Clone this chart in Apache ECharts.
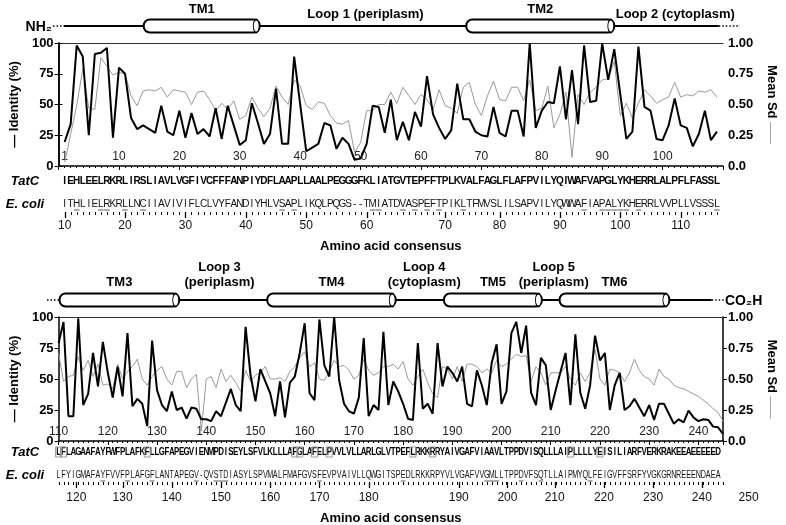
<!DOCTYPE html>
<html><head><meta charset="utf-8">
<script src="https://cdn.jsdelivr.net/npm/echarts@6/dist/echarts.min.js"></script>
<style>html,body{margin:0;padding:0;background:#fff}#c{width:786px;height:525px}</style>
</head><body><div id="c"></div>
<script>
// ---------------- DATA ----------------
const topStart = 1;
const bottomStart = 110;
const topIdentity = [19.5,34,98,89,25,91,92,96,23,80,75,39,30,33,30,27,49,28,25,45,23,43,26,30,24,47,22,49,33,17,21,51,35,18,26,63,18,18,89,50,12,15,18,35,33,14,23,18,5,6,18,49,48,27,54,21,36,21,44,32,73,42,31,22,29,67,38,38,28,25,24,48,27,24,45,45,24,100,31,45,52,51,81,38,78,34,98,52,53,99.5,70,95,58,22,28,97,48,45,22,21,33,55,33,31,16,26,45,21,28];
const topMeanSd = [0.03,0.26,0.49,0.79,0.47,0.46,0.88,0.81,0.74,0.76,0.75,0.57,0.49,0.61,0.62,0.61,0.64,0.56,0.62,0.61,0.60,0.50,0.60,0.61,0.54,0.45,0.51,0.46,0.53,0.38,0.41,0.56,0.47,0.40,0.47,0.65,0.56,0.50,0.70,0.65,0.49,0.46,0.52,0.51,0.41,0.35,0.34,0.37,0.11,0.19,0.45,0.45,0.50,0.50,0.60,0.51,0.64,0.57,0.50,0.58,0.54,0.46,0.62,0.49,0.47,0.43,0.64,0.68,0.50,0.41,0.57,0.69,0.54,0.53,0.64,0.64,0.53,0.70,0.45,0.47,0.65,0.31,0.42,0.60,0.07,0.58,0.50,0.60,0.64,0.70,0.71,0.85,0.41,0.51,0.39,0.51,0.62,0.57,0.51,0.54,0.56,0.68,0.56,0.58,0.57,0.61,0.60,0.62,0.56];
const bottomIdentity = [79,96,20,20,99,29,38,71,44,80,55,35,60,36,87,28,34,30,12,81,41,29,24,40,25,27,18,27,26,17.5,17.5,16,24,20,31,42,29,24,92,53,32,58,48,38.5,20,48,19,47,52,71,95,38.5,33,98,61,52,100,49,30,24,22,35,83,20,29,25,88,29,48,40,30,18,17,79,26,30,22,79,44,60,55,48,60,30,28,57,45,29,63,78,30,40,87,96,71,93,39,29,67,61,25,41,56,71,29,86,39,26,45,85,65,71,25,45,55,25,28,34,27,20,29,17,30,30,22,14,17.5,15,24.5,19,16,17.5,17,11.6,11,5.7];
const bottomMeanSd = [0.71,0.48,0.52,0.53,0.68,0.57,0.65,0.52,0.62,0.45,0.46,0.42,0.62,0.50,0.56,0.60,0.66,0.50,0.45,0.52,0.57,0.60,0.50,0.45,0.56,0.56,0.43,0.50,0.54,0.08,0.50,0.52,0.43,0.58,0.48,0.53,0.47,0.40,0.57,0.48,0.53,0.55,0.60,0.50,0.50,0.51,0.48,0.56,0.60,0.67,0.72,0.60,0.63,0.50,0.49,0.56,0.65,0.60,0.61,0.57,0.50,0.53,0.66,0.57,0.53,0.55,0.60,0.60,0.62,0.58,0.64,0.50,0.45,0.52,0.58,0.47,0.38,0.35,0.60,0.58,0.50,0.60,0.48,0.62,0.62,0.60,0.55,0.58,0.55,0.65,0.60,0.62,0.66,0.70,0.68,0.69,0.48,0.60,0.55,0.45,0.55,0.55,0.55,0.60,0.50,0.45,0.55,0.48,0.55,0.74,0.50,0.45,0.58,0.57,0.55,0.48,0.55,0.66,0.57,0.52,0.50,0.45,0.58,0.52,0.50,0.45,0.43,0.42,0.40,0.38,0.36,0.33,0.30,0.26,0.23,0.16];

const topInnerTicks = [1,10,20,30,40,50,60,70,80,90,100];
const bottomInnerTicks = [110,120,130,140,150,160,170,180,190,200,210,220,230,240];
const ecoliTopNumbers = [10,20,30,40,50,60,70,80,90,100,110];
const ecoliTopAt = [1,11,21,31,41,51,64,73,83,93,103];
const ecoliBottomNumbers = [120,130,140,150,160,170,180,190,200,210,220,230,240,250];
const ecoliBottomAt = [113.6,123,133,143,153,163,173,191.3,201.2,210.8,220.8,230.8,240.7,250.2];

const tatcTop = "IEHLEELRKRLIRSLIAVLVGFIVCFFFANPIYDFLAAPLLAALPEGGGFKLIATGVTEPFFTPLKVALFAGLFLAFPVILYQIWAFVAPGLYKHERRLALPFLFASSL";
const ecoliTop = "ITHLIELRKRLLNCIIAVIVIFLCLVYFANDIYHLVSAPLIKQLPQGS--TMIATDVASPEFTPIKLTFMVSLILSAPVILYQWWAFIAPALYKHERRLVVPLLVSSSL";
const tatcBottom = "LFLAGAAFAYFWFPLAFKFLLGFAPEGVIENMPDISEYLSFVLKLLLAFGLAFELPVVLVLLARLGLVTPEFLRKKRRYAIVGAFVIAAVLTPPDVISQLLLAIPLLLLYEISILIARFVERKRAKEEAEEEEED";
const ecoliBottom = "LFYIGMAFAYFVVFPLAFGFLANTAPEGV-QVSTDIASYLSPVMALFMAFGVSFEVPVAIVLLQWGITSPEDLRKKRPYVLVGAFVVGMLLTPPDVFSQTLLAIPMYQLFEIGVFFSRFYVGKGRNREEENDAEA";
const tatcBottomBoxed = [110,111,128,158,159,162,165,182,186,214,220];
const ecoliTopUnderlined = [3,7,8,11,14,37,39,52,53,57,59,61,63,67,87,90,91,92,93,94,96,109];
const ecoliBottomUnderlined = [119,124,129,138,142,143,144,163,180,197,198,199,204,208,218];

const topTMNames = ['TM1','TM2'];
const topTMStart = [14.1,67.5];
const topTMEnd = [33.3,92.0];
const topLoopNames = ['Loop 1 (periplasm)','Loop 2 (cytoplasm)'];
const topLoopAt = [50.8,102.1];
const bottomTMNames = ['TM3','TM4','TM5','TM6'];
const bottomTMStart = [110.2,152.4,188.3,211.8];
const bottomTMEnd = [134.5,178.5,208.2,234.1];
const bottomLoopNames = ['Loop 3\n(periplasm)','Loop 4\n(cytoplasm)','Loop 5\n(periplasm)'];
const bottomLoopAt = [142.7,184.3,210.6];

// ---------------- CHART ----------------
const FONT = '"Liberation Sans", Arial, Helvetica, sans-serif';
const chart = echarts.init(document.getElementById('c'), null, {renderer:'canvas'});

const topEnd = topStart + topIdentity.length - 1;
const botEnd = bottomStart + bottomIdentity.length - 1;

function mainX(grid, min, max, inner){
  return {gridIndex:grid, type:'value', min, max, interval:10, position:'bottom',
    axisLine:{show:true, onZero:false, lineStyle:{color:'#000', width:1.5}},
    axisTick:{show:true, length:4, lineStyle:{color:'#000', width:1}},
    minorTick:{show:true, splitNumber:10, length:2, lineStyle:{color:'#000', width:1}},
    splitLine:{show:false}, minorSplitLine:{show:false},
    axisLabel:{inside:true, customValues:inner, margin:3, fontSize:12, color:'#222', fontFamily:FONT}};
}
function frameX(grid, min, max){
  return {gridIndex:grid, type:'value', min, max, position:'top',
    axisLine:{show:true, onZero:false, lineStyle:{color:'#333', width:1}},
    axisTick:{show:false}, axisLabel:{show:false}, splitLine:{show:false}};
}
function leftY(grid){
  return {gridIndex:grid, type:'value', min:0, max:100, interval:25, position:'left',
    name:'— Identity (%)', nameLocation:'middle', nameGap:33, nameRotate:90,
    nameTextStyle:{fontSize:13, fontWeight:'bold', color:'#000', fontFamily:FONT},
    axisLine:{show:true, lineStyle:{color:'#000', width:1.5}},
    axisTick:{show:true, length:4, lineStyle:{color:'#000'}},
    splitLine:{show:false},
    axisLabel:{fontSize:13, fontWeight:'bold', color:'#000', margin:5, fontFamily:FONT}};
}
function rightY(grid){
  return {gridIndex:grid, type:'value', min:0, max:1, interval:0.25, position:'right',
    name:'{t|Mean Sd} {g|——}', nameLocation:'middle', nameGap:42, nameRotate:-90,
    nameTextStyle:{rich:{t:{fontSize:13, fontWeight:'bold', color:'#000', fontFamily:FONT},
                          g:{fontSize:11, color:'#888', fontFamily:FONT}}},
    axisLine:{show:true, lineStyle:{color:'#000', width:1.5}},
    axisTick:{show:true, length:4, lineStyle:{color:'#000'}},
    splitLine:{show:false},
    axisLabel:{fontSize:13, fontWeight:'bold', color:'#000', margin:5, fontFamily:FONT,
      formatter:(v)=> v===0 ? '0.0' : v.toFixed(2)}};
}

const option = {
  animation:false,
  backgroundColor:'#fff',
  textStyle:{fontFamily:FONT},
  grid:[{left:53, right:54, top:43, height:123},{left:54, right:54, top:317, height:124}],
  xAxis:[
    mainX(0, 0, 110, topInnerTicks),
    frameX(0, 0, 110),
    mainX(1, 110, 245, bottomInnerTicks),
    frameX(1, 110, 245)
  ],
  yAxis:[leftY(0), rightY(0), leftY(1), rightY(1)],
  series:[
    {type:'line', xAxisIndex:0, yAxisIndex:1, data:topMeanSd.map((v,i)=>[topStart+i, v]), showSymbol:false, lineStyle:{color:'#9a9a9a', width:1}, z:2},
    {type:'line', xAxisIndex:0, yAxisIndex:0, data:topIdentity.map((v,i)=>[topStart+i, v]), showSymbol:false, lineStyle:{color:'#000', width:2}, z:3},
    {type:'line', xAxisIndex:2, yAxisIndex:3, data:bottomMeanSd.map((v,i)=>[bottomStart+i, v]), showSymbol:false, lineStyle:{color:'#9a9a9a', width:1}, z:2},
    {type:'line', xAxisIndex:2, yAxisIndex:2, data:bottomIdentity.map((v,i)=>[bottomStart+i, v]), showSymbol:false, lineStyle:{color:'#000', width:2}, z:3}
  ]
};
chart.setOption(option);

// ---------------- DECORATIONS ----------------
function px(axisIdx, v){ return chart.convertToPixel({xAxisIndex:axisIdx}, v); }
const G = [];
function text(x, y, t, font, opts){
  G.push({type:'text', x, y, silent:true,
    style:Object.assign({text:t, font, fill:'#000', align:'center', verticalAlign:'middle'}, (opts&&opts.style)||{})});
}
function line(x1,y1,x2,y2,w,color,dash){
  G.push({type:'line', silent:true, shape:{x1,y1,x2,y2}, style:{stroke:color||'#000', lineWidth:w||1, lineDash:dash||null}});
}
function cylinder(x1,x2,y){
  G.push({type:'rect', silent:true, z:10, shape:{x:x1, y:y-6.5, width:x2-x1, height:13, r:6}, style:{fill:'#fff', stroke:'#000', lineWidth:2}});
  G.push({type:'circle', silent:true, z:11, x:x2-3.5, y:y, scaleX:0.45, shape:{cx:0, cy:0, r:6.5}, style:{fill:'#fff', stroke:'#000', lineWidth:2, strokeNoScale:true}});
}
function letters(str, start, axisIdx, y, font, scaleX, color){
  for(let i=0;i<str.length;i++){
    G.push({type:'text', silent:true, x:px(axisIdx, start+i), y, scaleX,
      style:{text:str[i], font, fill:color, align:'center', verticalAlign:'middle'}});
  }
}
function tickRow(axisIdx, from, to, majorAt, y){
  for(let p=from;p<=to;p++){ const x=Math.round(px(axisIdx,p))+0.5; line(x, y, x, y+3, 1, '#000'); }
  majorAt.forEach(p=>{ if(p<=to+0.5){ const x=Math.round(px(axisIdx,p))+0.5; line(x, y, x, y+6, 1.3, '#000'); } });
}
function numberRow(axisIdx, at, nums, y){
  at.forEach((p,i)=> text(px(axisIdx,p), y, String(nums[i]), '12px ' + FONT, {style:{fill:'#111'}}));
}

const bold13 = 'bold 13px ' + FONT;
const bold14 = 'bold 14px ' + FONT;

// top schematic
const yT = 26;
text(52, 27, 'NH₂', bold14, {style:{align:'right'}});
line(53, yT, px(0,0.85), yT, 1.5, '#000', [1.5,2]);
line(px(0,0.85), yT, px(0,109.3), yT, 2);
line(px(0,109.3), yT, 740, yT, 1.5, '#000', [1.5,2]);
topTMNames.forEach((n,i)=>{
  const a=px(0,topTMStart[i]), b=px(0,topTMEnd[i]);
  cylinder(a,b,yT);
  text((a+b)/2, 9, n, bold13);
});
topLoopNames.forEach((n,i)=> text(px(0,topLoopAt[i]), 14, n, bold13));

// bottom schematic
const yB = 300;
line(47, yB, px(2,110), yB, 1.5, '#000', [1.5,2]);
line(px(2,110), yB, px(2,242.7), yB, 2);
line(px(2,242.7), yB, 724, yB, 1.5, '#000', [1.5,2]);
text(725, 301, 'CO₂H', bold14, {style:{align:'left'}});
bottomTMNames.forEach((n,i)=>{
  const a=px(2,bottomTMStart[i]), b=px(2,bottomTMEnd[i]);
  cylinder(a,b,yB);
  text((a+b)/2, 282, n, bold13);
});
bottomLoopNames.forEach((n,i)=> text(px(2,bottomLoopAt[i]), 275, n, bold13, {style:{lineHeight:15}}));

// sequence rows
const italic = 'italic bold 13px ' + FONT;
text(25, 181, 'TatC', italic);
text(25, 204, 'E. coli', italic);
text(25, 452, 'TatC', italic);
text(25, 475, 'E. coli', italic);
letters(tatcTop, topStart, 0, 181, 'bold 10px ' + FONT, 1, '#000');
letters(ecoliTop, topStart, 0, 204, '10px ' + FONT, 1, '#111');
letters(tatcBottom, bottomStart, 2, 452, 'bold 11px ' + FONT, 0.72, '#000');
letters(ecoliBottom, bottomStart, 2, 475, '10px ' + FONT, 0.72, '#111');
tatcBottomBoxed.forEach(p=>{
  const x=px(2,p);
  G.push({type:'rect', silent:true, shape:{x:x-3, y:447, width:6, height:10}, style:{fill:'none', stroke:'#999', lineWidth:1}});
});
ecoliTopUnderlined.forEach(p=>{ const x=px(0,p); line(x-2.8, 210, x+2.8, 210, 1, '#555'); });
ecoliBottomUnderlined.forEach(p=>{ const x=px(2,p); line(x-2.4, 481, x+2.4, 481, 1, '#555'); });

// E. coli numbering rows
tickRow(0, topStart, topEnd, ecoliTopAt, 212);
tickRow(2, bottomStart, botEnd, ecoliBottomAt, 482);
numberRow(0, ecoliTopAt, ecoliTopNumbers, 226);
numberRow(2, ecoliBottomAt, ecoliBottomNumbers, 498);

// axis titles
text(px(0,55), 246, 'Amino acid consensus', bold13);
text(px(2,177.5), 518, 'Amino acid consensus', bold13);

chart.setOption({graphic:G});
</script>
</body></html>
